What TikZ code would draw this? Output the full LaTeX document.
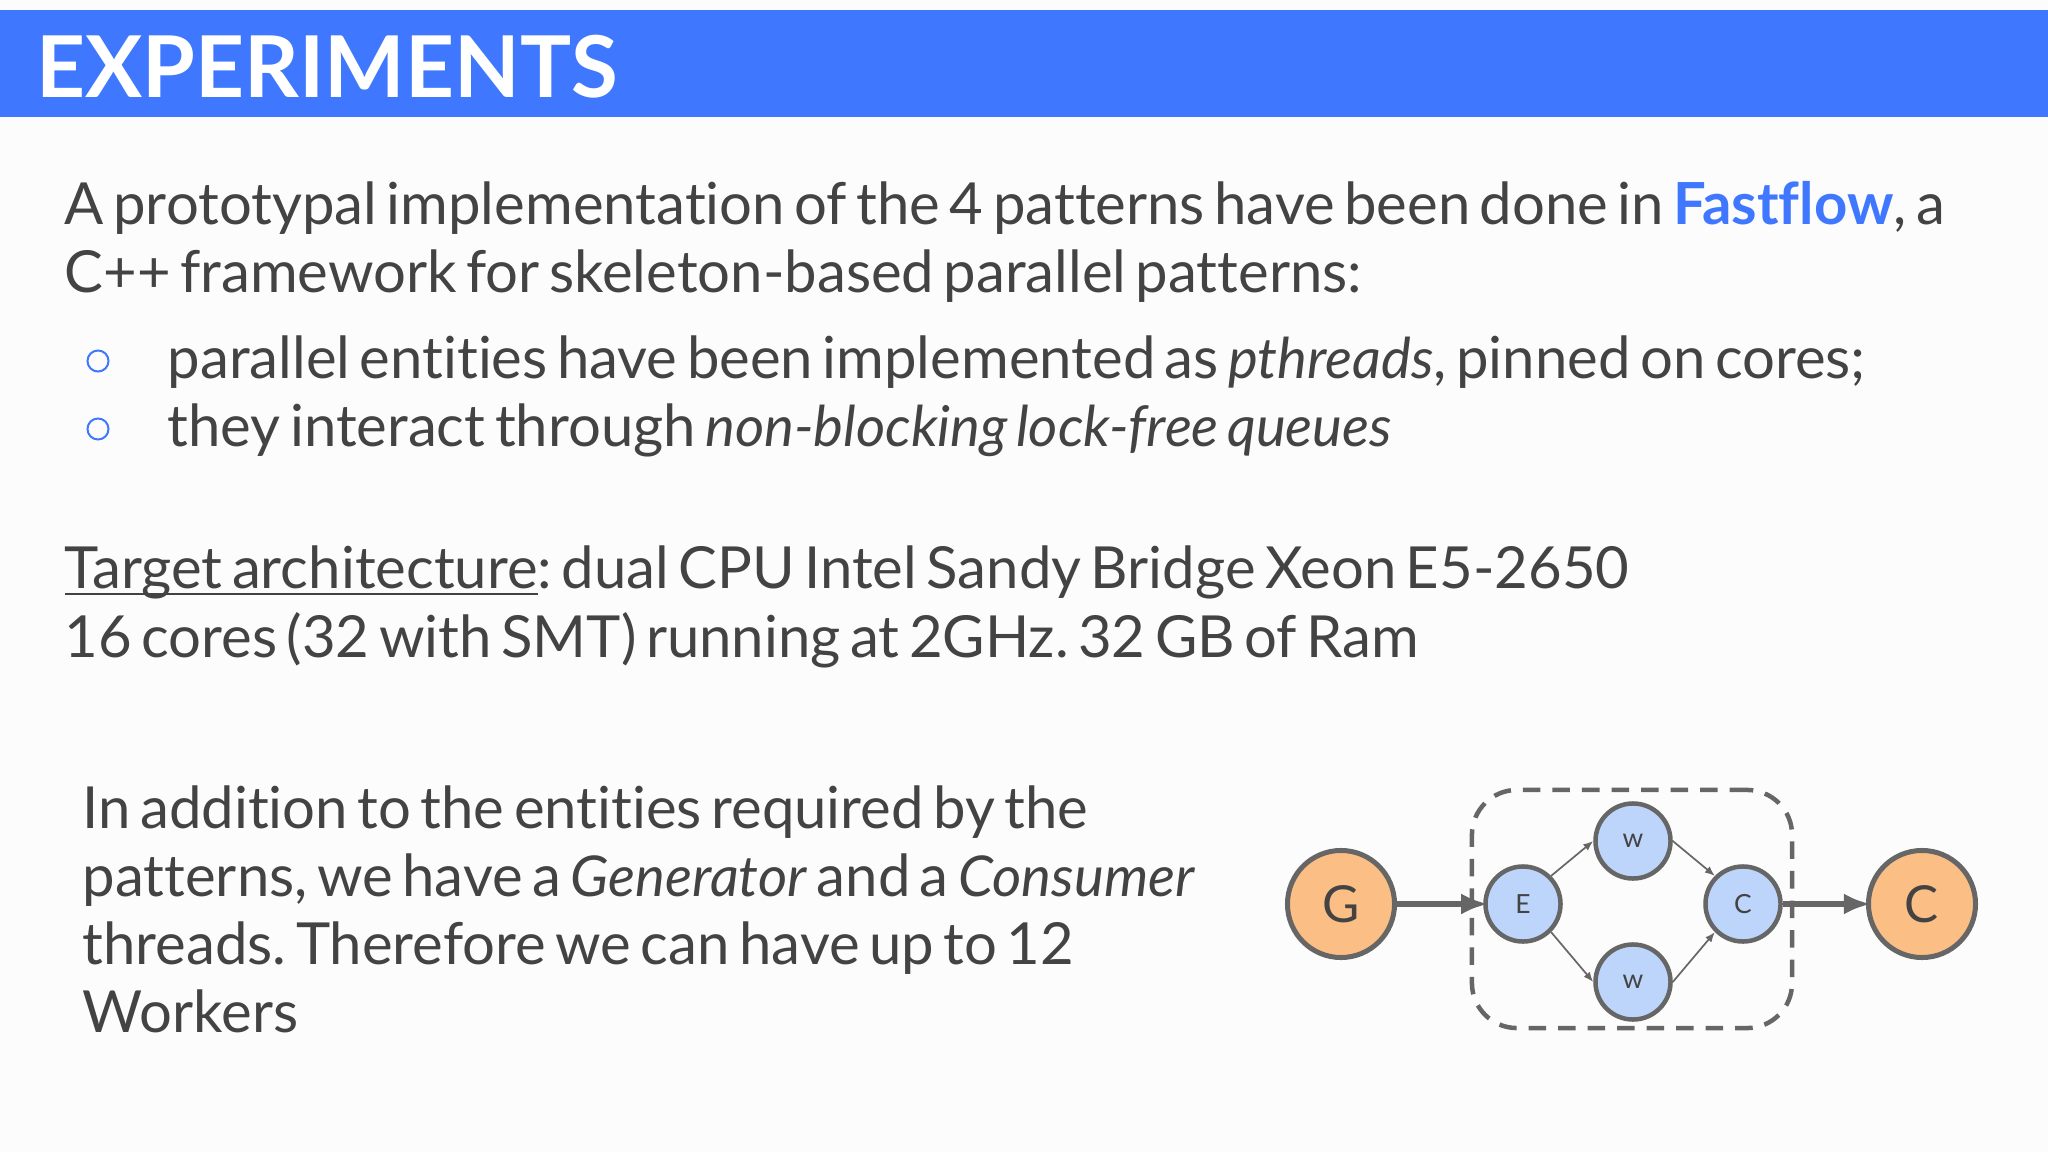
\documentclass[tikz,border=0pt]{standalone}
\usepackage{fontspec}
\setmainfont[Ligatures=NoCommon,WordSpace=0.64,ItalicFeatures={Scale=0.97}]{Lato}
\usetikzlibrary{arrows.meta,calc}
\definecolor{band}{HTML}{3F78FF}
\definecolor{ink}{HTML}{434343}
\definecolor{edge}{HTML}{666666}
\definecolor{threadblue}{HTML}{BDD5FB}
\definecolor{threadorange}{HTML}{FBBE85}
\frenchspacing
\tikzset{>=latex}
\tikzset{
  line/.style={anchor=base west,inner sep=0,text=ink,font=\fontsize{16.5}{19}\selectfont},
  bullet/.style={circle,draw=band,line width=0.02cm,minimum size=0.21cm,inner sep=0},
  outer/.style={circle,draw=edge,fill=threadorange,line width=0.05cm,minimum size=1.07cm,inner sep=0,text=ink,font=\fontsize{14.5}{16}\selectfont},
  inner/.style={circle,draw=edge,fill=threadblue,line width=0.045cm,minimum size=0.75cm,inner sep=0,text=ink,font=\fontsize{7.5}{9}\selectfont},
  big/.style={-{Latex[length=0.27cm,width=0.21cm]},draw=edge,line width=0.055cm,shorten >=-0.05cm},
  small/.style={-{Latex[length=0.1cm,width=0.08cm]},draw=edge,line width=0.017cm}
}
\begin{document}
\begin{tikzpicture}[x=0.01cm,y=-0.01cm]
  \useasboundingbox (0,0) rectangle (2048,1152);
  \fill[white!99!black] (0,0) rectangle (2048,1152);
  \fill[band] (0,10) rectangle (2048,117);
  \node[anchor=base west,inner sep=0,text=white,font=\fontsize{24.25}{28}\bfseries\selectfont] (title) at (36,98) {EXPERIMENTS};
  % text
  \node[line] (p1) at (64,225) {A prototypal implementation of the 4 patterns have been done in \textcolor{band}{\bfseries Fastflow}, a};
  \node[line] (p2) at (64,293) {C++ framework for skeleton-based parallel patterns:};
  \node[bullet] (b1) at (98,361) {};
  \node[line] (p3) at (167,379) {parallel entities have been implemented as \textit{pthreads}, pinned on cores;};
  \node[bullet] (b2) at (98,429) {};
  \node[line] (p4) at (167,447) {they interact through \textit{non-blocking lock-free queues}};
  \node[line] (p5) at (64,589) {\underline{\smash{Target architecture}}: dual CPU Intel Sandy Bridge Xeon E5-2650};
  \node[line] (p6) at (64,657) {16 cores (32 with SMT) running at 2GHz. 32 GB of Ram};
  \node[line] (p7) at (82,828) {In addition to the entities required by the};
  \node[line] (p8) at (82,896) {patterns, we have a \textit{Generator} and a \textit{Consumer}};
  \node[line] (p9) at (82,964) {threads. Therefore we can have up to 12};
  \node[line] (p10) at (82,1032) {Workers};
  % graph
  \node[draw=edge,line width=0.045cm,dash pattern=on 0.175cm off 0.12cm,rounded corners=0.45cm,minimum width=3.2cm,minimum height=2.38cm,inner sep=0] (farm) at (1632,909) {};
  \node[outer] (gen) at (1341,904) {G};
  \node[outer] (con) at (1922,904) {C};
  \node[inner] (emi) at (1523,904) {E};
  \node[inner] (wa) at (1633,841) {w};
  \node[inner] (wb) at (1633,982) {w};
  \node[inner] (col) at (1743,904) {C};
  \draw[big] (gen) -- (emi);
  \draw[big] (col) -- (con);
  \foreach \a/\b in {emi.45/wa.west,emi.-45/wb.west,wa.east/col.135,wb.east/col.-135} \draw[small] (\a) -- (\b);
\end{tikzpicture}
\end{document}
